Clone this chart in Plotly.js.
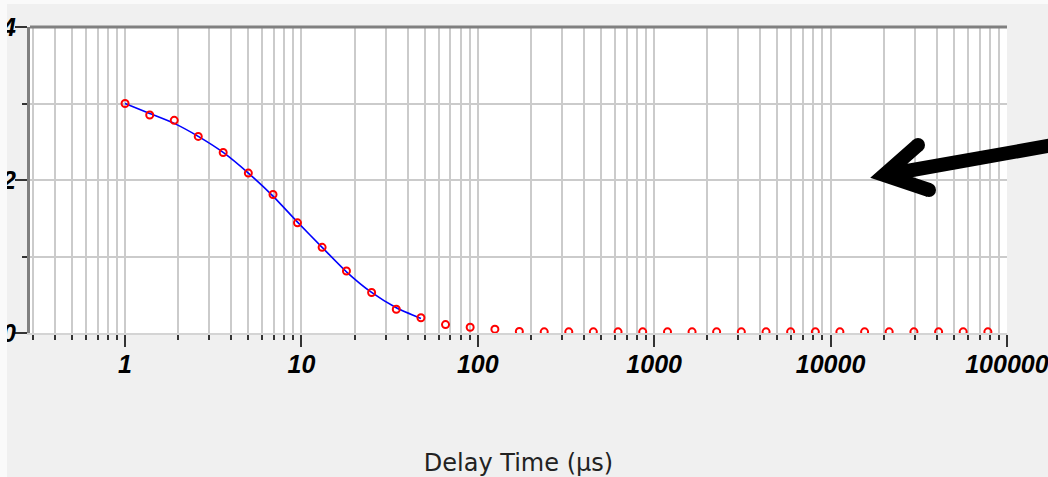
<!DOCTYPE html>
<html>
<head>
<meta charset="utf-8">
<script src="https://cdn.plot.ly/plotly-3.0.1.min.js"></script>
<style>
  html, body { margin: 0; padding: 0; background: #f0f0f0; }
  #chart { width: 1048px; height: 477px; }
</style>
</head>
<body>
<div id="chart"></div>
<script>
// Measured decay: delay time (µs) against signal
const delayTime = [1, 1.38, 1.9, 2.6, 3.6, 5.0, 6.9, 9.5, 13.1, 18, 25, 34.5, 47.6,
  65.6, 90.5, 125, 172, 238, 328, 452, 624, 861, 1190, 1640, 2260, 3120, 4310,
  5940, 8200, 11300, 15600, 21500, 29700, 41000, 56500, 78000];
const signal = [3.0, 2.85, 2.78, 2.57, 2.36, 2.09, 1.81, 1.44, 1.12, 0.81, 0.53, 0.31, 0.20,
  0.11, 0.075, 0.05, 0.02, 0.015, 0.015, 0.015, 0.015, 0.015, 0.015, 0.015, 0.015, 0.015, 0.015,
  0.015, 0.015, 0.015, 0.015, 0.015, 0.015, 0.015, 0.015, 0.015];

// Fitted curve over the first part of the decay
const fitTime = [1, 1.38, 1.9, 2.6, 3.6, 5.0, 6.9, 9.5, 13.1, 18, 25, 34.5, 47.6];
const fitSignal = [3.0, 2.87, 2.74, 2.57, 2.36, 2.09, 1.79, 1.45, 1.12, 0.80, 0.53, 0.33, 0.19];

// Axis ticks
const xTickVals = [1, 10, 100, 1000, 10000, 100000];
const xTickText = ['1', '10', '100', '1000', '10000', '100000'];
const xMinorVals = [0.3, 0.4, 0.5, 0.6, 0.7, 0.8, 0.9,
  2, 3, 4, 5, 6, 7, 8, 9,
  20, 30, 40, 50, 60, 70, 80, 90,
  200, 300, 400, 500, 600, 700, 800, 900,
  2000, 3000, 4000, 5000, 6000, 7000, 8000, 9000,
  20000, 30000, 40000, 50000, 60000, 70000, 80000, 90000];
const yTickVals = [0, 2, 4];
const yTickText = ['0', '2', '4'];
const yMinorVals = [1, 3];

// Plot-area geometry in pixels, used to place the overlay pointer
const W = 1048, H = 477;
const M = { l: 30, r: 41, t: 27, b: 144 };
const PW = W - M.l - M.r, PH = H - M.t - M.b;
const px = x => (x - M.l) / PW;
const py = y => (H - M.b - y) / PH;

const tipX = 884, tipY = 175;
const wingUp = [918, 145], wingDown = [929, 190];
const shaftEnd = [1070, 142];
const arrowW = 14;

const pointerPath =
  'M ' + px(wingUp[0]) + ',' + py(wingUp[1]) +
  ' L ' + px(tipX) + ',' + py(tipY) +
  ' L ' + px(wingDown[0]) + ',' + py(wingDown[1]) +
  ' M ' + px(tipX + 6) + ',' + py(tipY - 1) +
  ' L ' + px(shaftEnd[0]) + ',' + py(shaftEnd[1]);

function capCircle(c) {
  const r = arrowW / 2;
  return {
    type: 'circle', xref: 'paper', yref: 'paper', layer: 'above',
    x0: px(c[0] - r), x1: px(c[0] + r), y0: py(c[1] + r), y1: py(c[1] - r),
    fillcolor: '#000', line: { width: 0 }
  };
}

const tickFont = { family: 'Liberation Sans, Arial, sans-serif', size: 25, color: '#000', weight: 'bold', style: 'italic' };

const traces = [
  {
    x: fitTime, y: fitSignal, type: 'scatter', mode: 'lines',
    line: { color: '#0000ff', width: 1.6, shape: 'spline', smoothing: 0.6 },
    hoverinfo: 'skip'
  },
  {
    x: delayTime, y: signal, type: 'scatter', mode: 'markers',
    marker: { symbol: 'circle-open', size: 7, color: '#ff0000', line: { color: '#ff0000', width: 2 } },
    cliponaxis: true
  }
];

const layout = {
  width: W, height: H,
  margin: M,
  paper_bgcolor: '#f0f0f0',
  plot_bgcolor: '#ffffff',
  showlegend: false,
  xaxis: {
    type: 'log',
    range: [-0.539, 5.0005],
    tickmode: 'array', tickvals: xTickVals, ticktext: xTickText,
    ticks: 'outside', ticklen: 12, tickwidth: 2, tickcolor: '#333333',
    tickfont: tickFont,
    ticklabelstandoff: -4,
    ticklabeloverflow: 'allow',
    showgrid: true, gridcolor: '#cbcbcb', gridwidth: 2,
    minor: {
      tickmode: 'array', tickvals: xMinorVals,
      ticks: 'outside', ticklen: 5, tickwidth: 2, tickcolor: '#333333',
      showgrid: true, gridcolor: '#cbcbcb', gridwidth: 2
    },
    showline: true, linecolor: '#d4d4d4', linewidth: 2,
    zeroline: false,
    title: {
      text: 'Delay Time (µs)',
      font: { family: 'DejaVu Sans, sans-serif', size: 24, color: '#222' },
      standoff: 77
    },
    automargin: false,
    fixedrange: true
  },
  yaxis: {
    range: [0, 4],
    tickmode: 'array', tickvals: yTickVals, ticktext: yTickText,
    ticks: 'outside', ticklen: 12, tickwidth: 2, tickcolor: '#333333',
    tickfont: tickFont,
    ticklabelstandoff: -6,
    ticklabeloverflow: 'allow',
    showgrid: true, gridcolor: '#cbcbcb', gridwidth: 2,
    minor: {
      tickmode: 'array', tickvals: yMinorVals,
      ticks: 'outside', ticklen: 5, tickwidth: 2, tickcolor: '#333333',
      showgrid: true, gridcolor: '#cbcbcb', gridwidth: 2
    },
    showline: true, linecolor: '#808080', linewidth: 3,
    zeroline: false,
    automargin: false,
    fixedrange: true
  },
  shapes: [
    // dark frame along the top of the plot area
    { type: 'line', xref: 'paper', yref: 'paper', x0: 0, x1: 1, y0: 1, y1: 1,
      line: { color: '#808080', width: 3 }, layer: 'above' },
    // pointer
    { type: 'path', xref: 'paper', yref: 'paper', path: pointerPath,
      line: { color: '#000', width: arrowW }, layer: 'above' },
    capCircle(wingUp),
    capCircle(wingDown),
    // pale window edges on the left and top
    { type: 'rect', xref: 'paper', yref: 'paper', layer: 'above',
      x0: px(-10), x1: px(7), y0: py(H + 10), y1: py(-10),
      fillcolor: '#fafafa', line: { width: 0 } },
    { type: 'rect', xref: 'paper', yref: 'paper', layer: 'above',
      x0: px(-10), x1: px(W + 10), y0: py(4), y1: py(-10),
      fillcolor: '#fafafa', line: { width: 0 } }
  ]
};

Plotly.newPlot('chart', traces, layout, { displayModeBar: false, staticPlot: true });
</script>
</body>
</html>
